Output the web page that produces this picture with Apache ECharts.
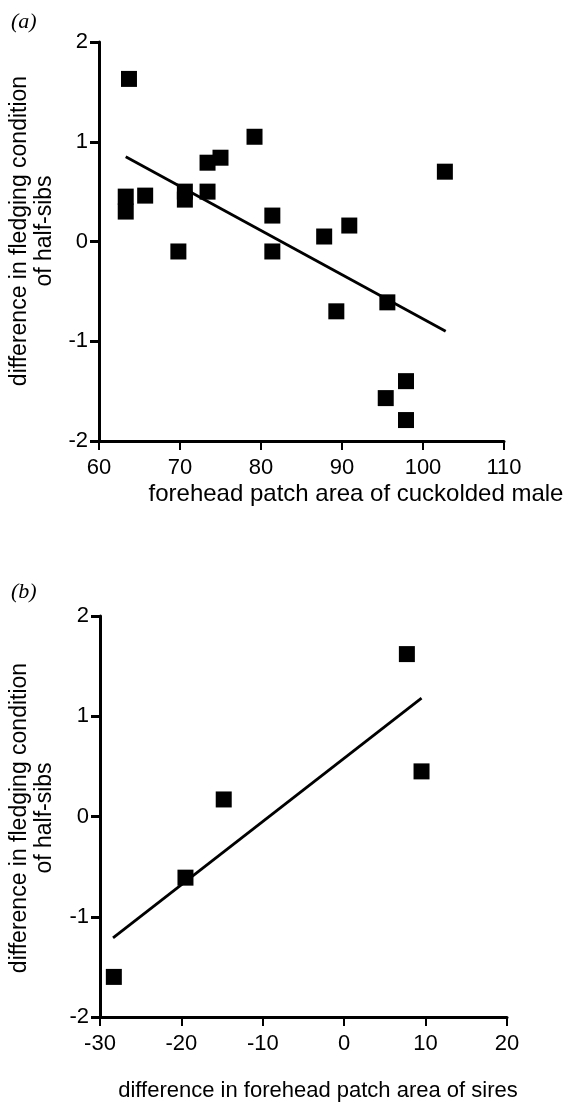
<!DOCTYPE html>
<html>
<head>
<meta charset="utf-8">
<script src="https://cdn.jsdelivr.net/npm/echarts@6/dist/echarts.min.js"></script>
<style>
html,body{margin:0;padding:0;background:#fff;}
#chart{width:581px;height:1103px;}
</style>
</head>
<body>
<div id="chart"></div>
<script>
// Panel (a): forehead patch area of cuckolded male vs difference in fledging condition
const aX = [63.7, 63.3, 63.3, 65.7, 70.6, 70.6, 73.4, 73.4, 75.0, 79.2, 81.4, 81.4, 69.8, 87.8, 90.9, 102.7, 95.6, 89.3, 95.4, 97.9, 97.9];
const aY = [1.63, 0.45, 0.30, 0.46, 0.50, 0.42, 0.50, 0.79, 0.84, 1.05, 0.26, -0.10, -0.10, 0.05, 0.16, 0.70, -0.61, -0.70, -1.57, -1.40, -1.79];
const aFitX = [63.3, 102.8];
const aFitY = [0.85, -0.90];
const aXTicks = [60, 70, 80, 90, 100, 110];
const aYTicks = [-2, -1, 0, 1, 2];

// Panel (b): difference in forehead patch area of sires
const bX = [7.7, 9.5, -14.8, -19.5, -28.3];
const bY = [1.62, 0.45, 0.17, -0.61, -1.60];
const bFitX = [-28.4, 9.5];
const bFitY = [-1.21, 1.18];
const bXTicks = [-30, -20, -10, 0, 10, 20];
const bYTicks = [-2, -1, 0, 1, 2];

const yTitle = 'difference in fledging condition\nof half-sibs';
const aXTitle = 'forehead patch area of cuckolded male';
const bXTitle = 'difference in forehead patch area of sires';

const FONT = '"Liberation Sans", Arial, Helvetica, sans-serif';

function pairs(xs, ys) { return xs.map((x, i) => [x, ys[i]]); }

function xAxisCfg(gridIndex, ticks) {
  return {
    type: 'value', gridIndex,
    min: ticks[0], max: ticks[ticks.length - 1], interval: ticks[1] - ticks[0],
    splitLine: { show: false },
    axisLine: { show: true, onZero: false, lineStyle: { color: '#000', width: 3 } },
    axisTick: { show: true, inside: false, length: 9, lineStyle: { color: '#000', width: 2 } },
    axisLabel: { color: '#000', fontSize: 22, fontFamily: FONT, margin: 16 }
  };
}
function yAxisCfg(gridIndex, ticks) {
  return {
    type: 'value', gridIndex,
    min: ticks[0], max: ticks[ticks.length - 1], interval: ticks[1] - ticks[0],
    splitLine: { show: false },
    axisLine: { show: true, onZero: false, lineStyle: { color: '#000', width: 3 } },
    axisTick: { show: true, inside: false, length: 9, lineStyle: { color: '#000', width: 3 } },
    axisLabel: { color: '#000', fontSize: 22, fontFamily: FONT, margin: 11 }
  };
}

const chart = echarts.init(document.getElementById('chart'), null, { renderer: 'canvas' });
chart.setOption({
  backgroundColor: '#fff',
  animation: false,
  grid: [
    { left: 99, top: 42, width: 405, height: 399 },
    { left: 100, top: 616, width: 407, height: 401 }
  ],
  xAxis: [xAxisCfg(0, aXTicks), xAxisCfg(1, bXTicks)],
  yAxis: [yAxisCfg(0, aYTicks), yAxisCfg(1, bYTicks)],
  series: [
    { type: 'line', xAxisIndex: 0, yAxisIndex: 0, data: pairs(aFitX, aFitY), showSymbol: false,
      lineStyle: { color: '#000', width: 2.8 }, z: 2 },
    { type: 'scatter', xAxisIndex: 0, yAxisIndex: 0, data: pairs(aX, aY), symbol: 'rect', symbolSize: 16,
      itemStyle: { color: '#000', opacity: 1 }, z: 3 },
    { type: 'line', xAxisIndex: 1, yAxisIndex: 1, data: pairs(bFitX, bFitY), showSymbol: false,
      lineStyle: { color: '#000', width: 2.8 }, z: 2 },
    { type: 'scatter', xAxisIndex: 1, yAxisIndex: 1, data: pairs(bX, bY), symbol: 'rect', symbolSize: 16,
      itemStyle: { color: '#000', opacity: 1 }, z: 3 }
  ],
  graphic: [
    { type: 'text', left: 11, top: 11, style: { text: '(a)', font: 'italic 22px "Liberation Serif", "Times New Roman", serif', fill: '#000' } },
    { type: 'text', left: 11, top: 581, style: { text: '(b)', font: 'italic 22px "Liberation Serif", "Times New Roman", serif', fill: '#000' } },
    { type: 'text', x: 32, y: 231, rotation: Math.PI / 2,
      style: { text: yTitle, font: '23px ' + FONT, fill: '#000', align: 'center', verticalAlign: 'middle', lineHeight: 25 } },
    { type: 'text', x: 32, y: 818, rotation: Math.PI / 2,
      style: { text: yTitle, font: '23px ' + FONT, fill: '#000', align: 'center', verticalAlign: 'middle', lineHeight: 25 } },
    { type: 'text', x: 356, y: 494,
      style: { text: aXTitle, font: '24px ' + FONT, fill: '#000', align: 'center', verticalAlign: 'middle' } },
    { type: 'text', x: 318, y: 1091,
      style: { text: bXTitle, font: '22px ' + FONT, fill: '#000', align: 'center', verticalAlign: 'middle' } }
  ]
});
</script>
</body>
</html>
